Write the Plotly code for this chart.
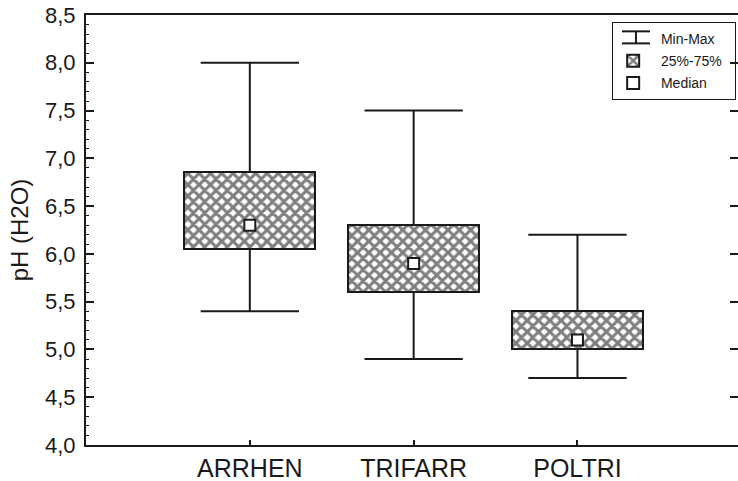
import plotly.graph_objects as go

categories = ["ARRHEN", "TRIFARR", "POLTRI"]
vmin = [5.40, 4.90, 4.70]
q1 = [6.05, 5.60, 5.00]
median = [6.30, 5.90, 5.10]
q3 = [6.86, 6.30, 5.40]
vmax = [8.00, 7.50, 6.20]
yticks = [4.0, 4.5, 5.0, 5.5, 6.0, 6.5, 7.0, 7.5, 8.0, 8.5]

pos = list(range(1, len(categories) + 1))
cap = 0.30
box_w = 0.80
pad = "\u00a0\u00a0"

# whiskers (vertical segments + caps) built from data
wx, wy = [], []
for p, lo, a, b, hi in zip(pos, vmin, q1, q3, vmax):
    wx += [p, p, None, p, p, None, p - cap, p + cap, None, p - cap, p + cap, None]
    wy += [b, hi, None, lo, a, None, hi, hi, None, lo, lo, None]

fig = go.Figure()
fig.add_trace(go.Scatter(x=wx, y=wy, mode="lines", line=dict(color="#1a1a1a", width=2),
                         name="Min-Max", showlegend=False, hoverinfo="skip"))
# legend-only entry for Min-Max (symbol drawn with shapes)
fig.add_trace(go.Scatter(x=[None], y=[None], mode="lines", line=dict(color="rgba(0,0,0,0)", width=0),
                         name=pad + "Min-Max", showlegend=True, legendgroup="a"))
fig.add_trace(go.Bar(x=pos, y=[b - a for a, b in zip(q1, q3)], base=q1, width=box_w,
                     name=pad + "25%-75%" + pad, legendgroup="b",
                     marker=dict(color="white", line=dict(color="#1a1a1a", width=2),
                                 pattern=dict(shape="x", fgcolor="#000", bgcolor="white",
                                              size=8, solidity=0.62))))
fig.add_trace(go.Scatter(x=pos, y=median, mode="markers", name=pad + "Median", legendgroup="c",
                         marker=dict(symbol="square", size=11, color="white",
                                     line=dict(color="#1a1a1a", width=2))))

fig.update_layout(
    width=738, height=481,
    margin=dict(l=86, r=0, t=15, b=36),
    plot_bgcolor="white", paper_bgcolor="white",
    separators=", ",
    font=dict(family="Liberation Sans, Arial", color="#1a1a1a"),
    bargap=0,
    legend=dict(x=0.807, y=0.984, xanchor="left", yanchor="top",
                bordercolor="#1a1a1a", borderwidth=1, bgcolor="rgba(0,0,0,0)",
                font=dict(size=14), tracegroupgap=1, itemsizing="constant"),
    xaxis=dict(range=[0, 3.98], tickvals=pos, ticktext=categories, automargin=False,
               showline=True, linecolor="#1a1a1a", linewidth=2, mirror=True,
               ticks="inside", ticklen=5, tickcolor="#1a1a1a", tickwidth=1.5,
               showgrid=False, zeroline=False, tickfont=dict(size=25)),
    yaxis=dict(range=[4.0, 8.5], tickvals=yticks, tickformat=".1f", automargin=False,
               showline=True, linecolor="#1a1a1a", linewidth=2,
               ticks="inside", ticklen=8, tickcolor="#1a1a1a", tickwidth=1.5,
               minor=dict(dtick=0.1, ticks="inside", ticklen=3, tickcolor="#1a1a1a", tickwidth=1),
               showgrid=False, zeroline=False, tickfont=dict(size=22), ticklabelstandoff=4,
               title=dict(text="pH (H2O)", font=dict(size=24), standoff=10)),
    yaxis2=dict(range=[4.0, 8.5], tickvals=yticks, overlaying="y", side="right", automargin=False,
                showline=False, ticks="inside", ticklen=8, tickcolor="#1a1a1a", tickwidth=1.5,
                showticklabels=False, showgrid=False, zeroline=False),
)
# dummy trace to activate yaxis2
fig.add_trace(go.Scatter(x=[None], y=[None], yaxis="y2", showlegend=False, hoverinfo="skip"))

# I-beam legend symbol for Min-Max
sx0, sx1, sy0, sy1 = 0.822, 0.865, 0.962, 0.934
for shp in [dict(x0=sx0, x1=sx1, y0=sy0, y1=sy0), dict(x0=sx0, x1=sx1, y0=sy1, y1=sy1),
            dict(x0=(sx0 + sx1) / 2, x1=(sx0 + sx1) / 2, y0=sy0, y1=sy1)]:
    fig.add_shape(type="line", xref="paper", yref="paper", line=dict(color="#1a1a1a", width=2), **shp)

fig.write_html("out.html", config={"displayModeBar": False},
               post_script="document.body.style.margin='0';document.body.style.overflow='hidden';")
